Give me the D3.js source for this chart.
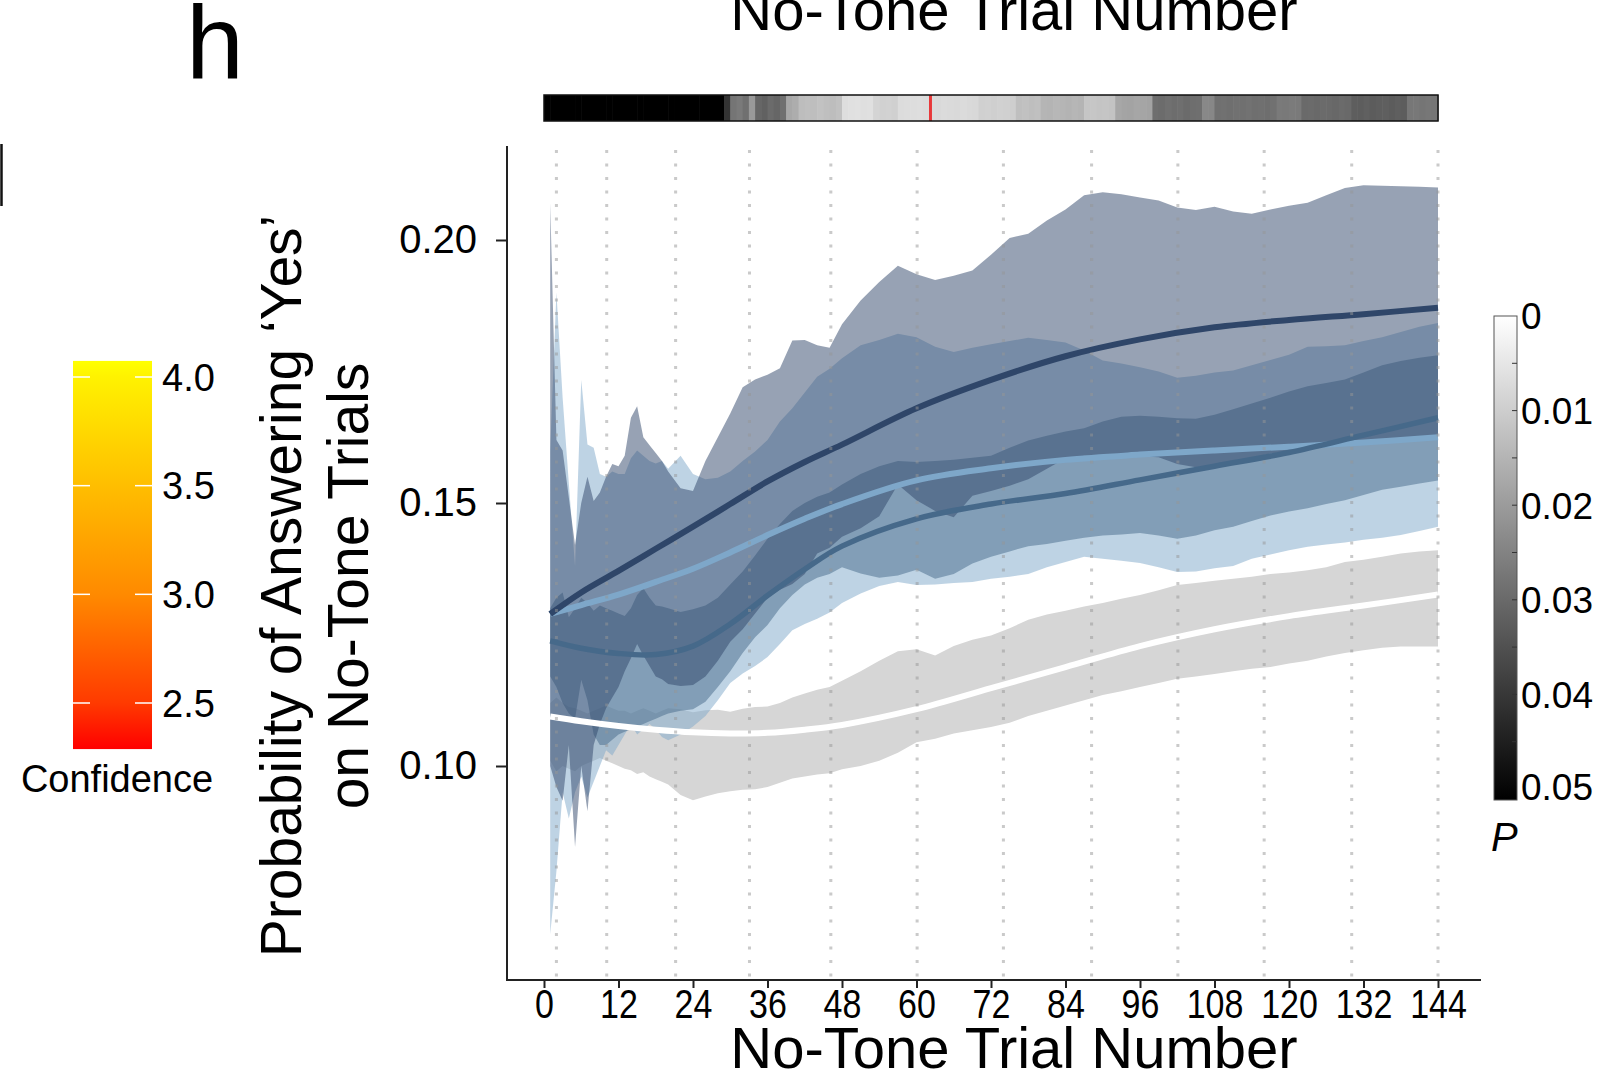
<!DOCTYPE html>
<html>
<head>
<meta charset="utf-8">
<script src="https://cdn.jsdelivr.net/npm/d3@7"></script>
<style>
  html, body { margin: 0; padding: 0; background: #fff; }
  svg { display: block; }
  text { font-family: "Liberation Sans", Arial, Helvetica, sans-serif; fill: #000; }
</style>
</head>
<body>
<svg id="chart" width="1612" height="1081"></svg>
<script>
// ---- data ---------------------------------------------------------------
// trial grid used by the confidence bands
const trials = [1,2,3,4,5,6,7,8,9,10,11,12,13,14,15,16,17,18,19,20,
  22,24,26,28,30,32,34,36,38,40,42,44,46,48,
  51,54,57,60,63,66,69,72,75,78,81,84,87,90,93,96,99,102,105,108,111,114,117,120,123,126,129,132,135,138,141,144];

// navy group band
const navyHi = [.207,.162,.160,.151,.142,.150,.155,.1504,.152,.155,.1574,.157,.159,.1662,.1684,.1625,.161,.1595,.158,.156,
  .1528,.1523,.158,.1625,.167,.172,.1735,.1744,.1756,.1809,.181,.180,.1795,.184,
  .1885,.192,.1951,.1935,.1924,.1932,.1942,.1972,.2004,.2012,.2037,.2058,.2085,.2091,.2087,.2081,.2075,.2062,.2057,.2063,.2054,.2050,.2058,.2065,.2071,.2085,.2099,.2104,.2103,.2102,.2101,.2100];
const navyLo = [.100,.096,.0934,.104,.0846,.100,.0914,.104,.108,.111,.113,.115,.118,.1205,.1232,.121,.119,.117,.1165,.1156,
  .1152,.1154,.117,.120,.1236,.126,.129,.132,.1335,.1346,.1365,.1404,.1415,.1436,
  .1452,.1475,.1535,.1505,.1485,.1473,.1514,.1523,.1533,.1545,.1565,.1585,.1590,.1590,.1591,.1589,.1587,.1574,.1568,.1572,.1578,.1586,.1594,.1598,.1602,.1606,.1610,.1612,.1615,.1618,.1620,.1623];

// light-blue group band
const lightHi = [.160,.190,.170,.1537,.138,.1734,.1611,.1605,.1555,.155,.156,.1555,.1555,.1585,.160,.159,.158,.1575,.158,.1565,
  .159,.1555,.1545,.1548,.156,.158,.1598,.162,.1655,.168,.171,.174,.1755,.1775,
  .1800,.1810,.1822,.1815,.1797,.1787,.1795,.1802,.1808,.1814,.1810,.1805,.1790,.1771,.1765,.1758,.1750,.1738,.1742,.1748,.1752,.1762,.1772,.1782,.1797,.1798,.1800,.1808,.1815,.1825,.1835,.1842];
const lightLo = [.068,.080,.095,.090,.095,.098,.094,.097,.100,.103,.102,.104,.106,.108,.106,.107,.108,.107,.1055,.1049,
  .1060,.1075,.1095,.1125,.1158,.1176,.1190,.1207,.1232,.1258,.1270,.1280,.1292,.1310,
  .1328,.1342,.1350,.1344,.1345,.1348,.1350,.1356,.1360,.1365,.1378,.1388,.1398,.1394,.1390,.1386,.1378,.1369,.1370,.1376,.1380,.1394,.1402,.1410,.1417,.1421,.1425,.1430,.1434,.1439,.1447,.1455];

// mid-blue group band
const midHi = [.130,.132,.133,.1283,.130,.132,.131,.1295,.1305,.130,.1295,.129,.1285,.130,.1325,.1338,.132,.1305,.1303,.130,
  .1293,.1298,.1305,.132,.1345,.137,.140,.1432,.146,.1485,.150,.1512,.152,.1535,
  .1555,.1570,.1580,.1578,.1580,.1582,.1586,.1590,.1605,.1619,.1628,.1636,.1642,.1655,.1664,.1666,.1664,.1661,.1660,.1668,.1678,.1689,.1700,.1712,.1722,.1728,.1735,.1748,.1762,.1770,.1776,.1781];
const midLo = [.117,.115,.112,.110,.109,.1164,.1125,.106,.104,.104,.105,.106,.1065,.107,.1075,.108,.1085,.109,.1095,.110,
  .1105,.1108,.1122,.1150,.1180,.1215,.1245,.1268,.1300,.1325,.1345,.1358,.1365,.1378,
  .1366,.1358,.1362,.1373,.1356,.1365,.1385,.1398,.1408,.1418,.1422,.1428,.1434,.1438,.1440,.1443,.1438,.1432,.1438,.1448,.1455,.1466,.1476,.1484,.1490,.1498,.1505,.1515,.1525,.1531,.1537,.1543];

// grey (control) band
const greyHi = [.112,.113,.112,.1112,.111,.1105,.110,.1105,.111,.1115,.111,.1105,.1105,.110,.1105,.111,.1105,.110,.1105,.111,
  .1108,.1102,.1106,.1107,.1103,.1109,.1112,.1113,.1120,.1130,.1138,.1145,.1150,.1162,
  .1180,.1200,.1218,.1222,.1210,.1228,.1240,.1248,.1262,.1278,.1288,.1295,.1303,.1310,.1318,.1325,.1334,.1344,.1348,.1352,.1356,.1360,.1365,.1368,.1372,.1378,.1388,.1392,.1398,.1404,.1408,.1410];
const greyLo = [.101,.099,.100,.0995,.099,.100,.1005,.101,.1015,.101,.1005,.100,.0995,.0992,.0985,.0988,.098,.0975,.0970,.0965,
  .0945,.0935,.0942,.0948,.0952,.0955,.0956,.0960,.0968,.0976,.0980,.0984,.0986,.0994,
  .1000,.1010,.1025,.1045,.1052,.1062,.1068,.1074,.1082,.1095,.1105,.1115,.1125,.1135,.1142,.1150,.1158,.1166,.1170,.1175,.1180,.1185,.1188,.1195,.1200,.1208,.1215,.1220,.1225,.1227,.1227,.1227];

// fitted mean curves
const fitTrials = [1,6,12,18,24,30,36,42,48,60,72,84,96,108,120,132,144];
const navyFit  = [.1289,.1330,.1371,.1413,.1455,.1498,.1541,.1578,.1611,.1680,.1734,.1779,.1811,.1834,.1848,.1859,.1871];
const lightFit = [.1289,.1306,.1326,.1350,.1375,.1406,.1439,.1470,.1498,.1543,.1566,.1582,.1592,.1600,.1607,.1615,.1625];
const midFit   = [.1238,.1224,.1214,.1212,.1228,.1270,.1324,.1374,.1418,.1470,.1498,.1518,.1544,.1570,.1596,.1629,.1662];
const greyFit  = [.1094,.1085,.1076,.1069,.1064,.1062,.1063,.1069,.1078,.1108,.1148,.1188,.1228,.1260,.1285,.1305,.1326];

// per-trial P values for the strip above the plot
const pValues = [
  .05,.05,.05,.05,.05,.05,.05,.05,.05,.05,.05,.05,.05,.05,.05,.05,.05,.05,.05,.05,.05,.05,.05,.05,.05,.05,.05,.05,.05,
  .040,.027,.026,.028,.020,.030,.031,.029,.030,.028,.017,.016,
  .013,.0125,.0128,.012,.0125,.013,.0122,
  .0065,.006,.0058,.0062,.006,
  .0085,.009,.0088,.0092,
  .0068,.0066,.0067,.0065,.0068,
  .0072,.0074,.007,.0073,.0075,.0071,.0074,.0076,
  .0092,.009,.0095,.0091,.0093,.0096,
  .0125,.0122,.0128,.0124,
  .0145,.0148,.0142,.0146,.015,.0144,.0147,
  .0114,.0112,.0116,.0113,.0118,
  .0172,.0178,.018,.0174,.0177,.0181,
  .0284,.0288,.028,.0286,.0282,.029,.0285,.0283,
  .0233,.0236,
  .028,.0278,.0283,.0279,.0281,.0277,.0282,.028,.0284,.0279,
  .026,.0262,.0258,.0261,
  .0292,.029,.0295,.0291,.0293,.0296,.029,.0294,
  .0315,.0318,.0312,.032,.0316,.0313,.0319,.0314,.0317,
  .0267,.0265,.027,.0266,.0268];
const markerTrial = 62.25;

// dotted guide positions (trial units) and axis ticks
const guideTrials = [2, 10.1, 21.2, 33.1, 46.2, 60.1, 74, 88.2, 102.1, 116, 130.1, 144];
const xTicks = [0,12,24,36,48,60,72,84,96,108,120,132,144];
const yTicks = [0.10, 0.15, 0.20];
const pTicks = [0, 0.01, 0.02, 0.03, 0.04, 0.05];
const pMinorTicks = [0.005,0.01,0.015,0.02,0.025,0.03,0.035,0.04,0.045];
const confTicks = [2.5, 3.0, 3.5, 4.0];
const confStops = [[2.29,"#ff0000"],[2.5,"#ff3a00"],[3.0,"#ff8a00"],[3.5,"#ffbe00"],[4.0,"#fff200"],[4.07,"#ffff00"]];

// ---- drawing ------------------------------------------------------------
const svg = d3.select("#chart");
const font = '"Liberation Sans", Arial, Helvetica, sans-serif';

const x = d3.scaleLinear().domain([0, 144]).range([544, 1438]);
const y = d3.scaleLinear().domain([0.10, 0.20]).range([766, 240]);

const axisX0 = 507, axisX1 = 1481, axisY0 = 146, axisY1 = 980;

function bandData(lo, hi) { return trials.map((t, i) => ({t, lo: lo[i], hi: hi[i]})); }
const area = d3.area().x(d => x(d.t)).y0(d => y(d.lo)).y1(d => y(d.hi)).curve(d3.curveLinear);

const bands = [
  {lo: greyLo,  hi: greyHi,  fill: "#d6d6d6", op: 1},
  {lo: lightLo, hi: lightHi, fill: "#7ea7c9", op: 0.5},
  {lo: midLo,   hi: midHi,   fill: "#46698a", op: 0.5},
  {lo: navyLo,  hi: navyHi,  fill: "#2f4669", op: 0.5}
];
const gBands = svg.append("g");
bands.forEach(b => {
  gBands.append("path").attr("d", area(bandData(b.lo, b.hi)))
    .attr("fill", b.fill).attr("fill-opacity", b.op);
});

const line = d3.line().x(d => x(d.t)).y(d => y(d.v)).curve(d3.curveCatmullRom.alpha(0.5));
const fits = [
  {v: greyFit,  color: "#ffffff", w: 6},
  {v: lightFit, color: "#7ea7c9", w: 6},
  {v: midFit,   color: "#46698a", w: 5.5},
  {v: navyFit,  color: "#2f4669", w: 6}
];
const gLines = svg.append("g");
fits.forEach(f => {
  gLines.append("path").attr("d", line(fitTrials.map((t, i) => ({t, v: f.v[i]}))))
    .attr("fill", "none").attr("stroke", f.color).attr("stroke-width", f.w);
});

// dotted guides over the bands
svg.append("g").selectAll("line").data(guideTrials).join("line")
  .attr("x1", d => x(d)).attr("x2", d => x(d))
  .attr("y1", 150).attr("y2", axisY1 - 2)
  .attr("stroke", "rgba(150,150,150,0.5)").attr("stroke-width", 3)
  .attr("stroke-dasharray", "3,10.5");

// axes
const gx = svg.append("g").attr("transform", `translate(0,${axisY1})`)
  .call(d3.axisBottom(x).tickValues(xTicks).tickSize(8).tickSizeOuter(0).tickPadding(0).tickFormat(d3.format("d")));
gx.select(".domain").remove();
gx.selectAll(".tick line").attr("stroke", "#222").attr("stroke-width", 2);
gx.selectAll(".tick text").attr("font-family", font).attr("font-size", 40).attr("fill", "#000")
  .attr("dy", "0.76em")
  .each(function () {
    // condensed digits, as in the printed figure
    const w = this.getComputedTextLength();
    d3.select(this).attr("textLength", w * 0.85).attr("lengthAdjust", "spacingAndGlyphs");
  });

const gy = svg.append("g").attr("transform", `translate(${axisX0},0)`)
  .call(d3.axisLeft(y).tickValues(yTicks).tickSize(11).tickSizeOuter(0).tickPadding(19).tickFormat(d3.format(".2f")));
gy.select(".domain").remove();
gy.selectAll(".tick line").attr("stroke", "#222").attr("stroke-width", 2);
gy.selectAll(".tick text").attr("font-family", font).attr("font-size", 40).attr("fill", "#000");

svg.append("line").attr("x1", axisX0).attr("x2", axisX0).attr("y1", axisY0).attr("y2", axisY1 + 1)
  .attr("stroke", "#222").attr("stroke-width", 2);
svg.append("line").attr("x1", axisX0 - 1).attr("x2", axisX1).attr("y1", axisY1).attr("y2", axisY1)
  .attr("stroke", "#222").attr("stroke-width", 2);

// axis titles
svg.append("text").attr("x", 1014).attr("y", 1068).attr("text-anchor", "middle")
  .attr("font-size", 58).text("No-Tone Trial Number");
svg.append("text").attr("x", 1014).attr("y", 30).attr("text-anchor", "middle")
  .attr("font-size", 58).text("No-Tone Trial Number");
const gyl = svg.append("g").attr("transform", "translate(0,586) rotate(-90)");
gyl.append("text").attr("x", 0).attr("y", 301).attr("text-anchor", "middle").attr("font-size", 57)
  .text("Probability of Answering \u2018Yes\u2019");
gyl.append("text").attr("x", 0).attr("y", 368).attr("text-anchor", "middle").attr("font-size", 57)
  .text("on No-Tone Trials");

// panel letter and edge mark
svg.append("text").attr("x", 186).attr("y", 78).attr("font-size", 104).text("h");
svg.append("line").attr("x1", 1.5).attr("x2", 1.5).attr("y1", 144).attr("y2", 206)
  .attr("stroke", "#111").attr("stroke-width", 2.5);

// P-value strip
const stripY = 95, stripH = 26;
const pGrey = d3.scaleLinear().domain([0, 0.05]).range([255, 0]).clamp(true);
const gStrip = svg.append("g");
gStrip.selectAll("rect").data(pValues).join("rect")
  .attr("x", (d, i) => x(i)).attr("width", (d, i) => x(i + 1) - x(i) + 0.6)
  .attr("y", stripY).attr("height", stripH)
  .attr("fill", d => { const g = Math.round(pGrey(d)); return `rgb(${g},${g},${g})`; });
gStrip.append("line").attr("x1", x(markerTrial)).attr("x2", x(markerTrial))
  .attr("y1", stripY).attr("y2", stripY + stripH).attr("stroke", "#e8383a").attr("stroke-width", 3);
gStrip.append("rect").attr("x", x(0)).attr("y", stripY).attr("width", x(144) - x(0)).attr("height", stripH)
  .attr("fill", "none").attr("stroke", "#111").attr("stroke-width", 1.5);

// P colour bar
const defs = svg.append("defs");
const pg = defs.append("linearGradient").attr("id", "pGrad").attr("x1", 0).attr("y1", 0).attr("x2", 0).attr("y2", 1);
pg.append("stop").attr("offset", "0%").attr("stop-color", "#ffffff");
pg.append("stop").attr("offset", "100%").attr("stop-color", "#000000");
const pY = d3.scaleLinear().domain([0, 0.05]).range([316, 789]);
const pbX = 1494, pbW = 23, pbBottom = 800;
svg.append("rect").attr("x", pbX).attr("y", pY(0)).attr("width", pbW).attr("height", pbBottom - pY(0))
  .attr("fill", "url(#pGrad)").attr("stroke", "#555").attr("stroke-width", 1);
svg.append("g").selectAll("line").data(pMinorTicks).join("line")
  .attr("x1", pbX + pbW - 5).attr("x2", pbX + pbW).attr("y1", d => pY(d)).attr("y2", d => pY(d))
  .attr("stroke", "#333").attr("stroke-width", 1);
svg.append("g").selectAll("text").data(pTicks).join("text")
  .attr("x", 1521).attr("y", d => Math.min(pY(d), pbBottom - 4)).attr("dy", d => d === 0.05 ? "0.3em" : "0.36em")
  .attr("font-size", 37)
  .text(d => d === 0 ? "0" : d3.format(".2f")(d));
svg.append("text").attr("x", 1491).attr("y", 851).attr("font-size", 40).attr("font-style", "italic").text("P");

// confidence colour bar
const cY = d3.scaleLinear().domain([2.5, 4.0]).range([703, 377]);
const cg = defs.append("linearGradient").attr("id", "confGrad").attr("x1", 0).attr("y1", 1).attr("x2", 0).attr("y2", 0);
const cTop = cY(4.074), cBot = cY(2.288);
confStops.forEach(([v, c]) => {
  cg.append("stop").attr("offset", ((cBot - cY(v)) / (cBot - cTop) * 100) + "%").attr("stop-color", c);
});
const cbX = 73, cbW = 79;
svg.append("rect").attr("x", cbX).attr("y", cTop).attr("width", cbW).attr("height", cBot - cTop)
  .attr("fill", "url(#confGrad)");
const gct = svg.append("g");
confTicks.forEach(v => {
  gct.append("line").attr("x1", cbX).attr("x2", cbX + 17).attr("y1", cY(v)).attr("y2", cY(v))
    .attr("stroke", "#fff").attr("stroke-width", 1.5);
  gct.append("line").attr("x1", cbX + cbW - 17).attr("x2", cbX + cbW).attr("y1", cY(v)).attr("y2", cY(v))
    .attr("stroke", "#fff").attr("stroke-width", 1.5);
  gct.append("text").attr("x", 162).attr("y", cY(v)).attr("dy", "0.36em").attr("font-size", 38)
    .text(d3.format(".1f")(v));
});
svg.append("text").attr("x", 117).attr("y", 792).attr("text-anchor", "middle").attr("font-size", 38)
  .text("Confidence");
</script>
</body>
</html>
